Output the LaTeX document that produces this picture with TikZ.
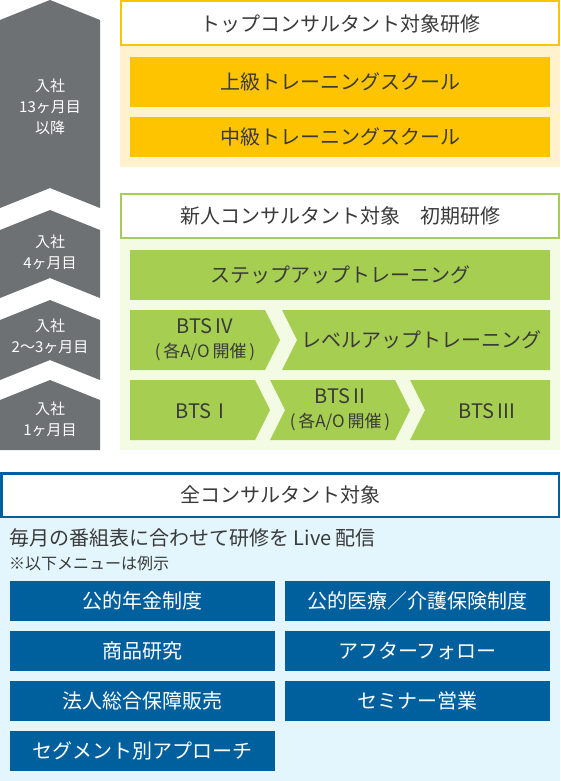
\documentclass[tikz,border=0pt]{standalone}
\usepackage{fontspec}
\setmainfont{Noto Sans CJK JP}
\definecolor{graych}{HTML}{6E7173}
\definecolor{ybord}{HTML}{FFC400}
\definecolor{ybar}{HTML}{FFC400}
\definecolor{ylight}{HTML}{FFF2CC}
\definecolor{gbord}{HTML}{A6CD58}
\definecolor{gbar}{HTML}{A6CE50}
\definecolor{glight}{HTML}{F4FBE4}
\definecolor{bblue}{HTML}{00609E}
\definecolor{blight}{HTML}{E3F6FD}
\definecolor{txt}{HTML}{3A3A3A}
\tikzset{
  big/.style={font=\fontsize{20pt}{24pt}\selectfont, inner sep=0pt},
  lbl/.style={big, text=txt},
  twoline/.style={font=\fontsize{20pt}{24pt}\selectfont, inner sep=0pt, text=txt, align=center},
  grylbl/.style={font=\fontsize{15pt}{21pt}\selectfont, inner sep=0pt, text=white, align=center},
  ybox/.style={big, text=txt, fill=ybar, minimum width=420pt, minimum height=50pt},
  ybox2/.style={big, text=txt, fill=ybar, minimum width=420pt, minimum height=40pt},
  gbox/.style={big, text=txt, fill=gbar, minimum width=420pt, minimum height=50pt},
  bluebox/.style={big, text=white, fill=bblue, minimum width=265pt, minimum height=40pt},
  chev/.style={fill=graych},
  gshape/.style={fill=gbar},
}
\newcommand{\smallline}[1]{{\fontsize{17pt}{24pt}\selectfont #1}}
\begin{document}
\begin{tikzpicture}[x=1pt,y=-1pt]
\useasboundingbox (0,0) rectangle (560,781);
% ---------- left grey chevrons ----------
\fill[chev] (0,20) -- (50,0) -- (100,20) -- (100,208) -- (50,188) -- (0,208) -- cycle;
\fill[chev] (0,230) -- (50,210) -- (100,230) -- (100,298) -- (50,278) -- (0,298) -- cycle;
\fill[chev] (0,320) -- (50,300) -- (100,320) -- (100,380) -- (50,360) -- (0,380) -- cycle;
\fill[chev] (0,400) -- (50,380) -- (100,400) -- (100,450) -- (0,450) -- cycle;
\node[grylbl] (g1) at (50,107) {入社\\13ヶ月目\\以降};
\node[grylbl] (g2) at (50,252) {入社\\4ヶ月目};
\node[grylbl] (g3) at (50,336) {入社\\2～3ヶ月目};
\node[grylbl] (g4) at (50,419) {入社\\1ヶ月目};
% ---------- top consultant section ----------
\fill[ylight] (120,46) rectangle (560,167);
\draw[ybord, line width=2pt, fill=white] (121,1) rectangle (559,45);
\node[lbl] (tophead) at (340,23.5) {トップコンサルタント対象研修};
\node[ybox] (adv) at (340,82) {上級トレーニングスクール};
\node[ybox2] (mid) at (340,137) {中級トレーニングスクール};
% ---------- new consultant section ----------
\fill[glight] (120,239) rectangle (560,450);
\draw[gbord, line width=2pt, fill=white] (121,194) rectangle (559,238);
\node[lbl] (newhead) at (340,216) {新人コンサルタント対象　初期研修};
\node[gbox] (stepup) at (340,275) {ステップアップトレーニング};
\fill[gshape] (130,310) -- (265,310) -- (280,340) -- (265,370) -- (130,370) -- cycle;
\fill[gshape] (282,310) -- (550,310) -- (550,370) -- (282,370) -- (297,340) -- cycle;
\fill[gshape] (130,380) -- (255,380) -- (270,410) -- (255,440) -- (130,440) -- cycle;
\fill[gshape] (270,380) -- (395,380) -- (410,410) -- (395,440) -- (270,440) -- (285,410) -- cycle;
\fill[gshape] (410,380) -- (550,380) -- (550,440) -- (410,440) -- (425,410) -- cycle;
\node[twoline] (bts4) at (205,340) {BTS\,IV\\\smallline{(\,各A/O\,開催\,)}};
\node[lbl] (levelup) at (421,340) {レベルアップトレーニング};
\node[lbl] (bts1) at (200,411) {BTS\hspace{7pt}I};
\node[twoline] (bts2) at (340,410) {BTS\,II\\\smallline{(\,各A/O\,開催\,)}};
\node[lbl] (bts3) at (487,411) {BTS\,III};
% ---------- all consultants section ----------
\fill[blight] (0,518) rectangle (560,781);
\draw[bblue, line width=2.5pt, fill=white] (1.25,473.25) rectangle (558.75,516.75);
\node[lbl] (allhead) at (280,495) {全コンサルタント対象};
\node[lbl, anchor=west] (live) at (9,538) {毎月の番組表に合わせて研修を Live 配信};
\node[anchor=west, inner sep=0pt, text=txt, font=\fontsize{16pt}{20pt}\selectfont] (note) at (9,563) {※以下メニューは例示};
\node[bluebox] (m1) at (142.5,601) {公的年金制度};
\node[bluebox] (m2) at (417.5,601) {公的医療／介護保険制度};
\node[bluebox] (m3) at (142.5,651) {商品研究};
\node[bluebox] (m4) at (417.5,651) {アフターフォロー};
\node[bluebox] (m5) at (142.5,701) {法人総合保障販売};
\node[bluebox] (m6) at (417.5,701) {セミナー営業};
\node[bluebox] (m7) at (142.5,751) {セグメント別アプローチ};
\end{tikzpicture}
\end{document}
